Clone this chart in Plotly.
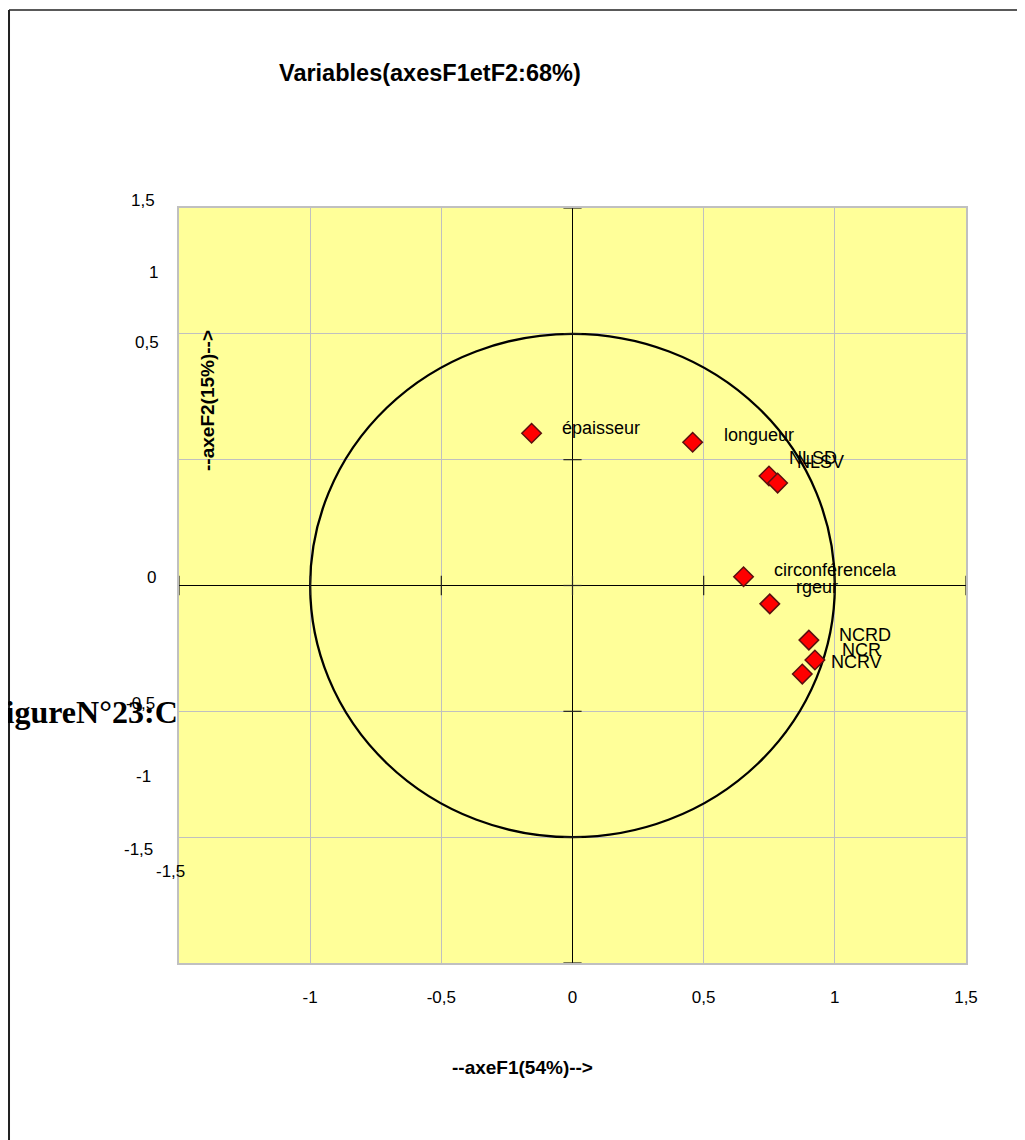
import plotly.graph_objects as go

# ---------------- data ----------------
variables = ["épaisseur", "longueur", "NLSD", "NLSV", "circonférence",
             "largeur", "NCRD", "NCR", "NCRV"]
f1_values = [-0.156, 0.458, 0.749, 0.782, 0.652, 0.752, 0.901, 0.924, 0.876]
f2_values = [0.605, 0.569, 0.435, 0.407, 0.035, -0.073, -0.217, -0.296, -0.352]
point_labels = ["épaisseur", "longueur", "NLSD", "NLSV", "circonférencela",
                "rgeur", "NCRD", "NCR", "NCRV"]

x_tick_values = [-1, -0.5, 0, 0.5, 1, 1.5]
x_tick_labels = ["-1", "-0,5", "0", "0,5", "1", "1,5"]
grid_values = [-1.5, -1, -0.5, 0, 0.5, 1, 1.5]

y_tick_labels = ["1,5", "1", "0,5", "0", "-0,5", "-1", "-1,5", "-1,5"]
y_tick_label_pos = [1.53, 1.245, 0.965, 0.03, -0.47, -0.76, -1.05, -1.135]

title_text = "Variables(axesF1etF2:68%)"
x_title = "--axeF1(54%)-->"
y_title = "--axeF2(15%)-->"
figure_caption = "FigureN°23:C"

# ---------------- styles ----------------
label_dx = [28, 29, 18, 17, 28, 24, 28, 25, 27]
label_dy = [5, 7, 18, 21, 7, 17, 5, 10, 12]
y_label_xshift = [-22, -19, -18, -21, -22, -26, -24, 8]
Y_RANGE = [-1.5, 1.5]

FONT = "Liberation Sans, Arial, sans-serif"

fig = go.Figure()

# tick marks on the zero axes
fig.add_trace(go.Scatter(
    x=[0] * len(grid_values), y=grid_values, mode="markers",
    marker=dict(symbol="line-ew", size=13, line=dict(color="#222", width=1.2)),
    hoverinfo="skip", showlegend=False, cliponaxis=False))
fig.add_trace(go.Scatter(
    x=grid_values, y=[0] * len(grid_values), mode="markers",
    marker=dict(symbol="line-ns", size=14, line=dict(color="#222", width=1.2)),
    hoverinfo="skip", showlegend=False, cliponaxis=False))

# variables
fig.add_trace(go.Scatter(
    x=f1_values, y=f2_values, mode="markers", text=variables,
    marker=dict(symbol="diamond", size=15, color="#FF0000",
                line=dict(color="#5a1010", width=1.5)),
    showlegend=False, hovertemplate="%{text}: (%{x}, %{y})<extra></extra>"))

annotations = []
for xv, yv, lab, dx, dy in zip(f1_values, f2_values, point_labels, label_dx, label_dy):
    annotations.append(dict(
        x=xv, y=yv, xref="x", yref="y", text=lab, showarrow=False,
        xanchor="left", yanchor="middle", xshift=dx, yshift=dy,
        font=dict(family=FONT, size=18, color="#000")))

span = Y_RANGE[1] - Y_RANGE[0]
for lab, pos, xs in zip(y_tick_labels, y_tick_label_pos, y_label_xshift):
    annotations.append(dict(
        x=0, y=(pos - Y_RANGE[0]) / span, xref="paper", yref="paper", text=lab,
        showarrow=False, xanchor="right", yanchor="middle", xshift=xs,
        font=dict(family=FONT, size=17, color="#000")))

annotations += [
    dict(x=0.319, y=1.179, xref="paper", yref="paper", text="<b>%s</b>" % title_text,
         showarrow=False, xanchor="center", yanchor="middle",
         font=dict(family=FONT, size=23.5, color="#000")),
    dict(x=0.437, y=-0.139, xref="paper", yref="paper", text="<b>%s</b>" % x_title,
         showarrow=False, xanchor="center", yanchor="middle",
         font=dict(family=FONT, size=19, color="#000")),
    dict(x=0.0368, y=0.7457, xref="paper", yref="paper", text="<b>%s</b>" % y_title,
         showarrow=False, xanchor="center", yanchor="middle", textangle=-90,
         font=dict(family=FONT, size=19, color="#000")),
    dict(x=0, y=(-0.503 - Y_RANGE[0]) / span, xref="paper", yref="paper",
         text="<b>%s</b>" % figure_caption,
         showarrow=False, xanchor="right", yanchor="middle", xshift=1,
         font=dict(family="Liberation Serif, Times New Roman, serif", size=32, color="#000")),
]

shapes = [
    dict(type="circle", xref="x", yref="y", x0=-1, y0=-1, x1=1, y1=1,
         line=dict(color="#000", width=2.3), layer="between"),
    # outer frame (left and top)
    dict(type="line", xref="paper", yref="paper", x0=-0.2160, x1=-0.2160, y0=1.2623, y1=-0.3,
         line=dict(color="#222", width=2)),
    dict(type="line", xref="paper", yref="paper", x0=-0.2160, x1=1.2, y0=1.2623, y1=1.2623,
         line=dict(color="#222", width=1.5)),
]

fig.update_layout(
    width=1017, height=1132, autosize=False,
    margin=dict(l=171, r=59, t=200, b=177),
    paper_bgcolor="#FFFFFF", plot_bgcolor="#FFFF99",
    font=dict(family=FONT, size=17, color="#000"),
    showlegend=False,
    annotations=annotations, shapes=shapes,
    xaxis=dict(range=[-1.5, 1.5], tickvals=x_tick_values, ticktext=x_tick_labels,
               showgrid=True, gridcolor="#C0C0C0", gridwidth=1,
               zeroline=True, zerolinecolor="#000", zerolinewidth=1.3,
               showline=True, linecolor="#C0C0C0", linewidth=1.5, mirror=True,
               ticks="", ticklabelstandoff=18,
               tickfont=dict(family=FONT, size=17, color="#000"), fixedrange=True),
    yaxis=dict(range=Y_RANGE, tickvals=grid_values, showticklabels=False,
               showgrid=True, gridcolor="#C0C0C0", gridwidth=1,
               zeroline=True, zerolinecolor="#000", zerolinewidth=1.3,
               showline=True, linecolor="#C0C0C0", linewidth=1.5, mirror=True,
               ticks="", fixedrange=True),
)

fig.write_html("out.html")
